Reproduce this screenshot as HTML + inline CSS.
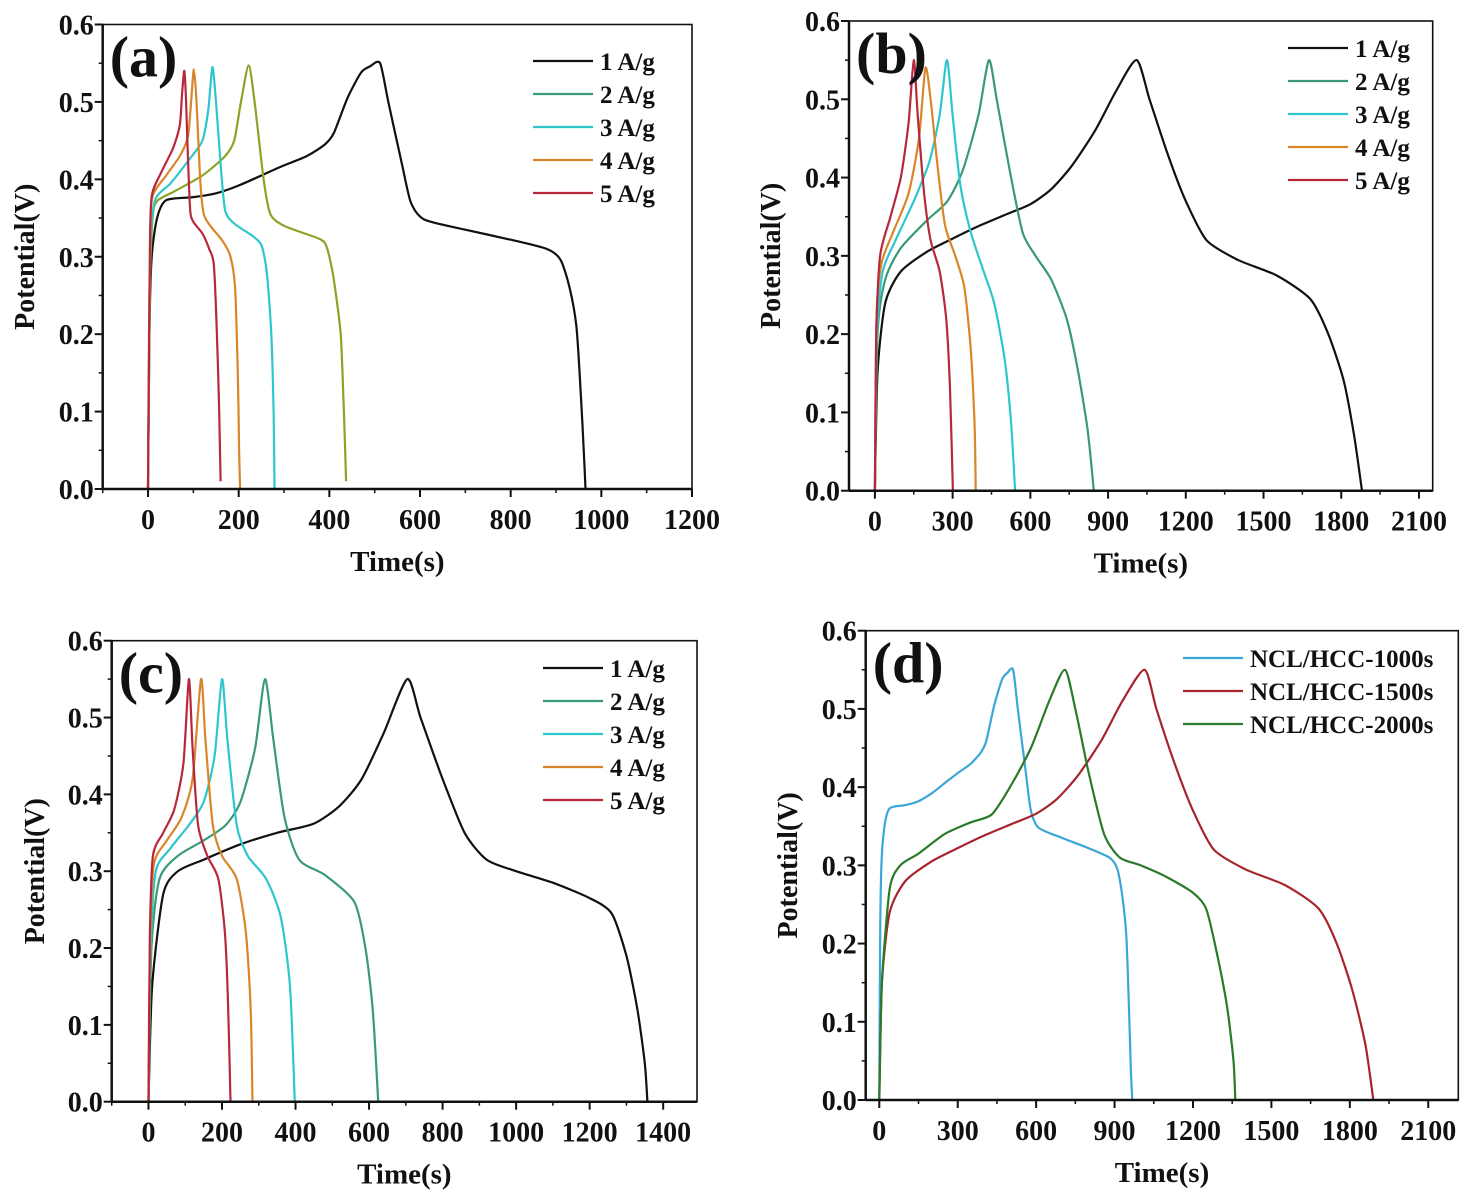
<!DOCTYPE html>
<html><head><meta charset="utf-8"><style>
body{margin:0;background:#fff}
svg{display:block}
text{font-family:"Liberation Serif",serif;font-weight:bold;fill:#111}
</style></head><body>
<svg id="fig" width="1476" height="1199" viewBox="0 0 1476 1199" xmlns="http://www.w3.org/2000/svg"></svg>
<script>
// ---- data (time s, potential V) ----
const a1=[[0,0],[3,0.2],[8,0.3],[20,0.35],[40,0.373],[100,0.377],[150,0.382],[200,0.392],[250,0.405],[300,0.418],[350,0.43],[390,0.445],[410,0.46],[440,0.505],[470,0.538],[490,0.546],[512,0.55],[530,0.5],[560,0.42],[580,0.37],[610,0.348],[700,0.335],[800,0.322],[880,0.31],[910,0.296],[930,0.26],[945,0.21],[955,0.12],[962,0.04],[965,0]];
const a2=[[0,0],[3,0.25],[10,0.35],[20,0.372],[60,0.385],[120,0.405],[170,0.43],[190,0.45],[205,0.5],[222,0.547],[235,0.5],[255,0.4],[270,0.355],[300,0.34],[370,0.325],[390,0.318],[400,0.3],[410,0.27],[425,0.2],[432,0.1],[437,0.01]];
const a3=[[0,0],[5,0.3],[15,0.372],[50,0.395],[90,0.425],[120,0.45],[133,0.49],[142,0.545],[150,0.5],[160,0.42],[170,0.36],[190,0.343],[230,0.327],[250,0.315],[262,0.28],[272,0.2],[277,0.1],[279,0]];
const a4=[[0,0],[5,0.32],[10,0.378],[40,0.405],[70,0.43],[88,0.455],[95,0.5],[101,0.542],[107,0.5],[115,0.4],[123,0.355],[140,0.338],[165,0.32],[182,0.3],[192,0.26],[198,0.15],[201,0.05],[203,0]];
const a5=[[0,0],[4,0.3],[8,0.378],[30,0.41],[55,0.44],[70,0.47],[75,0.51],[80,0.54],[84,0.5],[88,0.43],[93,0.36],[100,0.345],[120,0.33],[135,0.31],[145,0.29],[152,0.2],[157,0.1],[160,0.01]];
const b1=[[0,0],[10,0.15],[40,0.24],[100,0.28],[200,0.305],[300,0.322],[400,0.338],[500,0.352],[600,0.366],[680,0.385],[760,0.415],[850,0.46],[930,0.51],[1010,0.55],[1060,0.5],[1130,0.43],[1200,0.37],[1280,0.32],[1400,0.295],[1550,0.275],[1680,0.245],[1750,0.2],[1810,0.14],[1850,0.07],[1880,0]];
const b2=[[0,0],[10,0.2],[40,0.27],[100,0.31],[200,0.345],[280,0.37],[340,0.41],[400,0.48],[440,0.55],[470,0.5],[520,0.41],[570,0.33],[620,0.3],[680,0.27],[740,0.22],[780,0.16],[820,0.08],[845,0]];
const b3=[[0,0],[8,0.2],[30,0.28],[80,0.32],[150,0.37],[210,0.42],[250,0.48],[278,0.55],[300,0.48],[330,0.39],[370,0.33],[420,0.28],[460,0.24],[500,0.17],[525,0.09],[541,0]];
const b4=[[0,0],[6,0.22],[25,0.29],[70,0.33],[130,0.38],[170,0.45],[195,0.54],[215,0.5],[240,0.42],[270,0.34],[310,0.3],[345,0.26],[370,0.18],[385,0.08],[389,0]];
const b5=[[0,0],[5,0.2],[20,0.3],[60,0.35],[100,0.4],[130,0.47],[150,0.55],[165,0.48],[190,0.38],[215,0.32],[250,0.28],[275,0.22],[290,0.13],[301,0]];
const c1=[[0,0],[10,0.15],[40,0.27],[80,0.3],[150,0.315],[250,0.335],[350,0.35],[450,0.362],[520,0.385],[580,0.42],[640,0.48],[704,0.55],[740,0.5],[800,0.42],[860,0.35],[920,0.315],[1000,0.3],[1100,0.285],[1200,0.265],[1260,0.245],[1300,0.19],[1330,0.12],[1350,0.05],[1357,0]];
const c2=[[0,0],[8,0.2],[30,0.29],[80,0.32],[150,0.34],[210,0.36],[250,0.39],[290,0.46],[317,0.55],[340,0.47],[370,0.37],[410,0.315],[480,0.295],[560,0.26],[590,0.2],[610,0.12],[625,0]];
const c3=[[0,0],[6,0.2],[20,0.3],[60,0.33],[110,0.36],[150,0.39],[180,0.45],[200,0.55],[215,0.47],[240,0.36],[270,0.32],[320,0.29],[360,0.24],[385,0.15],[398,0]];
const c4=[[0,0],[5,0.22],[15,0.31],[50,0.34],[90,0.37],[120,0.42],[143,0.55],[155,0.47],[175,0.36],[200,0.32],[240,0.29],[265,0.22],[278,0.12],[283,0]];
const c5=[[0,0],[4,0.22],[12,0.32],[40,0.35],[70,0.38],[95,0.44],[110,0.55],[120,0.46],[135,0.36],[160,0.32],[190,0.29],[208,0.22],[217,0.12],[223,0]];
const d1=[[0,0],[3,0.2],[8,0.3],[20,0.35],[40,0.373],[100,0.377],[150,0.382],[200,0.392],[250,0.405],[300,0.418],[350,0.43],[390,0.445],[410,0.46],[440,0.505],[470,0.538],[490,0.546],[512,0.55],[530,0.5],[560,0.42],[580,0.37],[610,0.348],[700,0.335],[800,0.322],[880,0.31],[910,0.296],[930,0.26],[945,0.21],[955,0.12],[962,0.04],[968,0]];
const d2=[[0,0],[10,0.15],[40,0.24],[100,0.28],[200,0.305],[300,0.322],[400,0.338],[500,0.352],[600,0.366],[680,0.385],[760,0.415],[850,0.46],[930,0.51],[1015,0.55],[1060,0.5],[1130,0.43],[1200,0.37],[1280,0.32],[1400,0.295],[1550,0.275],[1680,0.245],[1750,0.2],[1810,0.14],[1860,0.07],[1890,0]];
const d3=[[0,0],[10,0.15],[40,0.27],[80,0.3],[150,0.315],[250,0.34],[350,0.355],[430,0.365],[500,0.4],[580,0.45],[650,0.51],[710,0.55],[750,0.5],[800,0.42],[860,0.34],[920,0.31],[1000,0.3],[1100,0.285],[1200,0.265],[1250,0.245],[1290,0.19],[1330,0.12],[1355,0.05],[1362,0]];
const labelsRate=["1 A/g","2 A/g","3 A/g","4 A/g","5 A/g"];
const labelsD=["NCL/HCC-1000s","NCL/HCC-1500s","NCL/HCC-2000s"];
const yTicks=[0,0.1,0.2,0.3,0.4,0.5,0.6];
const xTicksA=[0,200,400,600,800,1000,1200];
const xTicksB=[0,300,600,900,1200,1500,1800,2100];
const xTicksC=[0,200,400,600,800,1000,1200,1400];
const xTicksD=[0,300,600,900,1200,1500,1800,2100];

const NS="http://www.w3.org/2000/svg";
const svg=document.getElementById('fig');
function mk(tag,attrs,parent){const e=document.createElementNS(NS,tag);for(const k in attrs)e.setAttribute(k,attrs[k]);(parent||svg).appendChild(e);return e;}
function smooth(pts){
  let d='M'+pts[0][0].toFixed(1)+' '+pts[0][1].toFixed(1);
  for(let i=0;i<pts.length-1;i++){
    const p0=pts[Math.max(0,i-1)],p1=pts[i],p2=pts[i+1],p3=pts[Math.min(pts.length-1,i+2)];
    const k=0.12;
    const c1x=p1[0]+(p2[0]-p0[0])*k,c1y=p1[1]+(p2[1]-p0[1])*k;
    const c2x=p2[0]-(p3[0]-p1[0])*k,c2y=p2[1]-(p3[1]-p1[1])*k;
    d+=' C'+c1x.toFixed(1)+' '+c1y.toFixed(1)+' '+c2x.toFixed(1)+' '+c2y.toFixed(1)+' '+p2[0].toFixed(1)+' '+p2[1].toFixed(1);
  }
  return d;
}
function panel(p){
  const g=mk('g',{});
  
  
  const X=t=>p.L+(t-p.xmin)/(p.xmax-p.xmin)*(p.R-p.L);
  const Y=v=>p.B-(v-0)/(0.6)*(p.B-p.T);
  p.series.forEach((s,i)=>{
    const d=smooth(s.map(q=>[X(q[0]),Y(q[1])]));
    const path=mk('path',{d:d,fill:'none',stroke:p.colors[i],'stroke-width':2.2,'stroke-linejoin':'round'},g);
    
    
  });
  const fr=mk('rect',{x:p.L,y:p.T,width:p.R-p.L,height:p.B-p.T,fill:'none',stroke:'#111','stroke-width':1.6},g);
  
  
  mk('line',{x1:p.L,y1:p.T,x2:p.L,y2:p.B,stroke:'#111','stroke-width':2.5},g);
  mk('line',{x1:p.L,y1:p.B,x2:p.R,y2:p.B,stroke:'#111','stroke-width':2.5},g);
  yTicks.forEach(v=>{
    mk('line',{x1:p.L-8,y1:Y(v),x2:p.L,y2:Y(v),stroke:'#111','stroke-width':2},g);
    if(v<0.6) mk('line',{x1:p.L-4,y1:Y(v+0.05),x2:p.L,y2:Y(v+0.05),stroke:'#111','stroke-width':1.5},g);
    const t=mk('text',{x:p.L-9,y:Y(v)+10,'text-anchor':'end','font-size':28},g);
    t.textContent=v.toFixed(1);
    
    
  });
  const step=p.xt[1]-p.xt[0];
  for(let t=p.xt[0]-step/2;t<=p.xmax;t+=step/2){
    if(t<p.xmin) continue;
    const major=Math.abs((t/step)-Math.round(t/step))<1e-6;
    mk('line',{x1:X(t),y1:p.B,x2:X(t),y2:p.B+(major?8:4),stroke:'#111','stroke-width':major?2:1.5},g);
  }
  p.xt.forEach(v=>{
    const t=mk('text',{x:X(v),y:p.B+40,'text-anchor':'middle','font-size':28},g);
    t.textContent=v;
    
    
  });
  const xt=mk('text',{x:(p.L+p.R)/2,y:p.B+82,'text-anchor':'middle','font-size':29},g);
  xt.textContent='Time(s)';
  
  
  const yt=mk('text',{x:0,y:0,'text-anchor':'middle','font-size':28,transform:'translate('+p.ytx+','+((p.T+p.B)/2)+') rotate(-90)'},g);
  yt.textContent='Potential(V)';
  
  
  const pl=mk('text',{x:p.L+7,y:p.T+52,'font-size':58},g);
  pl.textContent='('+p.id+')';
  
  
  p.labels.forEach((lab,i)=>{
    const y=p.legY+i*33;
    const ln=mk('line',{x1:p.legX,y1:y,x2:p.legX+60,y2:y,stroke:p.legColors[i],'stroke-width':2.2},g);
    
    
    const t=mk('text',{x:p.legX+67,y:y+9,'font-size':25},g);
    t.textContent=lab;
    
    
  });
}
const rc=['#111','#3a9a74','#2ec6cc','#d9862b','#b8283c'];
panel({id:'a',L:102.7,R:692,T:24.5,B:489,xmin:-100,xmax:1200,xt:xTicksA,series:[a1,a2,a3,a4,a5],colors:['#111','#8aa428','#2ec6cc','#d9862b','#b8283c'],legColors:rc,labels:labelsRate,legX:533,legY:61,ytx:34});
panel({id:'b',L:849,R:1432.7,T:21,B:490.7,xmin:-100,xmax:2153,xt:xTicksB,series:[b1,b2,b3,b4,b5],colors:rc,legColors:rc,labels:labelsRate,legX:1288,legY:48,ytx:780});
panel({id:'c',L:111.7,R:697,T:640.7,B:1101.7,xmin:-100,xmax:1492,xt:xTicksC,series:[c1,c2,c3,c4,c5],colors:rc,legColors:rc,labels:labelsRate,legX:543,legY:668,ytx:44});
panel({id:'d',L:865.7,R:1458.3,T:630.7,B:1100,xmin:-52,xmax:2215,xt:xTicksD,series:[d1,d2,d3],colors:['#3aa7d8','#a8242c','#2a7a2a'],legColors:['#3aa7d8','#a8242c','#2a7a2a'],labels:labelsD,legX:1183,legY:658,ytx:797});
</script>
</body></html>
